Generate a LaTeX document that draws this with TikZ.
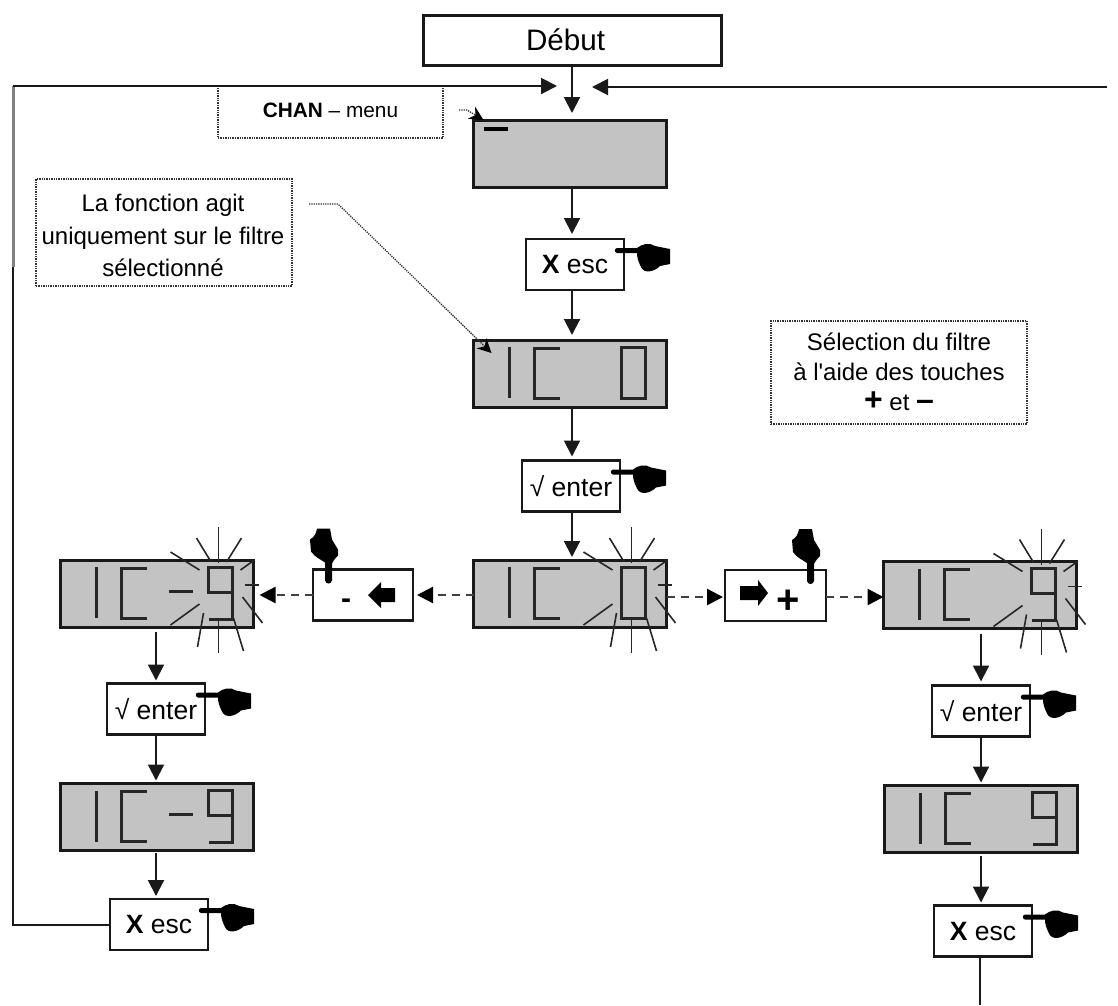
\documentclass[tikz,border=0pt]{standalone}
\usepackage{fontspec}
\setmainfont{Liberation Sans}
\newfontfamily\straightfont{Liberation Sans}
\usetikzlibrary{arrows.meta,calc}
\definecolor{lcdgray}{HTML}{C3C3C3}
\tikzset{
  lcd/.style={draw=black!90,fill=lcdgray,line width=3pt,minimum width=193pt,minimum height=67pt,inner sep=0pt,outer sep=0pt},
  keybox/.style={draw=black!90,fill=white,line width=2.6pt,minimum width=98pt,minimum height=51pt,inner sep=0pt,outer sep=0pt,font=\fontsize{26.5}{26.5}\selectfont},
  startbox/.style={draw=black!90,fill=white,line width=3pt,minimum width=298pt,minimum height=50pt,inner sep=0pt,outer sep=0pt,font=\fontsize{29.6}{29.6}\selectfont},
  notebox/.style={draw=black!80,densely dotted,line width=1.4pt,inner sep=0pt,outer sep=0pt},
  notetext/.style={inner sep=0pt,align=center,font=\fontsize{24}{32.5}\selectfont},
  flow/.style={draw=black!90,line width=2pt,-{Triangle[width=16pt,length=16pt]}},
  plain/.style={draw=black!90,line width=2pt},
  worn/.style={draw=black!50,line width=3pt},
  dasharrow/.style={draw=black!75,line width=2.4pt,dash pattern=on 8pt off 6pt,-{Triangle[width=16pt,length=16pt,color=black]}},
  dotarrow/.style={draw=black!80,line width=1.3pt,densely dotted,-{Stealth[width=14pt,length=14pt,color=black]}},
  seg/.style={draw=black!85,line width=3pt},
  ray/.style={draw=black!85,line width=1.6pt},
}
\newcommand{\ICglyphs}[1]{%
  \begin{scope}[shift={(#1.north west)}]
    \draw[seg] (36,7) -- (36,58);
    \draw[seg] (86,8) -- (61,8) -- (61,58) -- (86,58);
  \end{scope}}
\newcommand{\digitzero}[1]{%
  \begin{scope}[shift={(#1.north west)}]
    \draw[seg] (148,7) rectangle (172,58);
  \end{scope}}
\newcommand{\digitnine}[1]{%
  \begin{scope}[shift={(#1.north west)}]
    \draw[seg] (172,32) -- (148,32) -- (148,7) -- (172,7) -- (172,59) -- (148,59);
  \end{scope}}
\newcommand{\minussign}[1]{%
  \begin{scope}[shift={(#1.north west)}]
    \draw[seg] (108,31) -- (132,31);
  \end{scope}}
\newcommand{\rays}[1]{%
  \begin{scope}[shift={(#1.north west)}]
    \draw[ray] (158,-33) -- (158,3);
    \draw[ray] (158,60) -- (158,93);
    \draw[ray] (136,-22) -- (150,1);
    \draw[ray] (181,-22) -- (166,2);
    \draw[ray] (110,-8) -- (139,10);
    \draw[ray] (194,0) -- (180,10);
    \draw[ray] (184,25) -- (198,25);
    \draw[ray] (182,37) -- (202,63);
    \draw[ray] (139,44) -- (110,65);
    \draw[ray] (143,53) -- (137,87);
    \draw[ray] (173,58) -- (183,91);
  \end{scope}}
\newcommand{\handE}[1]{%
  \begin{scope}[shift={(#1.north east)}]
    \fill[black] (-7,9) -- (13,9) .. controls (18,5) and (25,3) .. (31,7) -- (46,10) -- (46,25) -- (36,27)
      .. controls (30,33) and (20,35) .. (17,28) .. controls (14,22) and (13,18) .. (13,14) -- (-7,14) .. controls (-10,13) and (-10,10) .. (-7,9) -- cycle;
  \end{scope}}
\newcommand{\handS}[2]{%
  \begin{scope}[shift={(#1.north west)},xshift=#2pt]
    \fill[black] (12,-7) .. controls (8,-10) and (2,-12) .. (-2,-18) -- (-3,-30) .. controls (2,-33) and (3,-36) .. (4,-41) -- (17,-41) -- (19,-30) -- (25,-20) -- (25,-14)
      .. controls (21,-10) and (20,-8) .. (19,-6) -- (19,11) .. controls (18,15) and (13,15) .. (12,11) -- cycle;
  \end{scope}}
\begin{document}
\begin{tikzpicture}[x=1pt,y=-1pt]
\useasboundingbox (0,0) rectangle (1118,1005);
% start
\node[startbox] (debut) at (572,40) {\raisebox{-3pt}{Début}\kern13pt\mbox{}};
% centre column
\node[lcd] (lcdA) at (570,153.5) {};
\node[keybox] (escA) at (575,264.5) {\raisebox{-2pt}{\textbf{X} esc}};
\node[lcd] (lcdB) at (570,373.5) {};
\node[keybox] (enterA) at (571,486) {\raisebox{-3pt}{√ enter}};
\node[lcd] (lcdC) at (570,593.5) {};
% horizontal row
\node[keybox,minimum width=100pt] (minusK) at (363,595) {};
\node[keybox,minimum width=101pt] (plusK) at (775.5,595.5) {};
\node[lcd] (lcdL) at (157,593.5) {};
\node[lcd] (lcdR) at (980,595) {};
% left column
\node[keybox] (enterL) at (156,709) {\raisebox{-3pt}{√ enter}};
\node[lcd] (lcdL2) at (157,817) {};
\node[keybox] (escL) at (159,924.5) {\raisebox{-2pt}{\textbf{X} esc}};
% right column
\node[keybox] (enterR) at (981,711) {\raisebox{-3pt}{√ enter}};
\node[lcd] (lcdR2) at (981,819) {};
\node[keybox] (escR) at (983,931) {\raisebox{-2pt}{\textbf{X} esc}};
% notes
\node[notebox,minimum width=225pt,minimum height=52pt] (noteChan) at (330.5,112) {};
\node[notetext,font=\fontsize{20.8}{24}\selectfont] (noteChanText) at (330.5,110) {\textbf{CHAN} – menu};
\node[notebox,minimum width=256pt,minimum height=107pt] (noteAct) at (164,232.5) {};
\node[notetext] (noteActText) at (163,235.5) {La fonction agit\\uniquement sur le filtre\\sélectionné};
\node[notebox,minimum width=256pt,minimum height=103pt] (noteSel) at (899,372.5) {};
\node[notetext,font=\fontsize{24}{30}\selectfont] (noteSelText) at (899,372) {Sélection du filtre\\à l{\straightfont'}aide des touches\\\textbf{\fontsize{32}{30}\selectfont +} et \textbf{\fontsize{32}{30}\selectfont –}};
% free ends
\coordinate (tipL) at (557,86);
\coordinate (tipR) at (592,87);
\coordinate (cornerB) at (13,86);
\coordinate (wornEnd) at (13,267);
\coordinate (cornerA) at (cornerB |- escL.west);
\coordinate (farR) at (1107,87);
\coordinate (exitEnd) at (980,1005);
\coordinate (noteOut) at (309,204);
\coordinate (noteBend) at (338,204);
\coordinate (chanOut) at (459,110);
\coordinate (chanBend) at (467,110);
% glyphs
\fill[black] (484,127) rectangle (508,131);
\foreach \n in {lcdB,lcdC,lcdL,lcdR,lcdL2,lcdR2} {\ICglyphs{\n}}
\digitzero{lcdB}\digitzero{lcdC}
\digitnine{lcdL}\digitnine{lcdR}\digitnine{lcdL2}\digitnine{lcdR2}
\minussign{lcdL}\minussign{lcdL2}
\rays{lcdC}\rays{lcdL}\rays{lcdR}
% key faces
\node[font=\bfseries\fontsize{30}{30}\selectfont,inner sep=0pt] (minusGlyph) at (346,604) {-};
\fill[black] (368,595) -- (381,582) -- (381,588) -- (395,588) -- (395,602) -- (381,602) -- (381,608) -- cycle;
\fill[black] (768,593) -- (758,580) -- (758,586) -- (740,586) -- (740,600) -- (758,600) -- (758,606) -- cycle;
\node[font=\bfseries\fontsize{40}{40}\selectfont,inner sep=0pt] (plusGlyph) at (788,602) {+};
% hands
\handE{escA}\handE{enterA}\handE{enterL}\handE{escL}\handE{enterR}\handE{escR}
\handS{minusK}{0}\handS{plusK}{70}
% flow
\draw[flow,shorten >=7pt] (debut.south) -- (debut.south |- lcdA.north);
\draw[flow,shorten >=5pt] (debut.south |- lcdA.south) -- (debut.south |- escA.north);
\draw[flow,shorten >=5pt] (debut.south |- escA.south) -- (debut.south |- lcdB.north);
\draw[flow,shorten >=4pt] (debut.south |- lcdB.south) -- (debut.south |- enterA.north);
\draw[flow,shorten >=3pt] (debut.south |- enterA.south) -- (debut.south |- lcdC.north);
\draw[dasharrow,shorten >=4pt] (lcdC.west |- minusK.east) -- (minusK.east);
\draw[dasharrow,shorten >=6pt] (minusK.west) -- (lcdL.east |- minusK.west);
\draw[dasharrow,shorten >=2pt] (lcdC.east |- 0,597) -- (plusK.west |- 0,597);
\draw[dasharrow] (plusK.east |- 0,597) -- (lcdR.west |- 0,597);
\draw[flow,shorten <=5pt,shorten >=3pt] (enterL.north |- lcdL.south) -- (enterL.north);
\draw[flow,shorten >=3pt] (enterL.south) -- (enterL.south |- lcdL2.north);
\draw[flow,shorten <=2pt,shorten >=3pt] (enterL.south |- lcdL2.south) -- (enterL.south |- escL.north);
\draw[plain] (escL.west) -- (cornerA) -- (wornEnd);
\draw[worn] (wornEnd) -- (cornerB);
\draw[flow] (cornerB) -- (tipL);
\draw[flow] (farR) -- (tipR);
\draw[flow,shorten <=5pt,shorten >=4pt] (lcdR.south -| enterR.north) -- (enterR.north);
\draw[flow,shorten >=3pt] (enterR.south) -- (enterR.south |- lcdR2.north);
\draw[flow,shorten <=3pt,shorten >=3pt] (lcdR2.south) -- (lcdR2.south |- escR.north);
\draw[plain] (exitEnd |- escR.south) -- (exitEnd);
% leaders
\draw[dotarrow] (noteOut) -- (noteBend) -- ($(lcdB.north west)+(18,13)$);
\draw[dotarrow] (chanOut) -- (chanBend) -- ($(lcdA.north west)+(10,0)$);
\end{tikzpicture}
\end{document}
